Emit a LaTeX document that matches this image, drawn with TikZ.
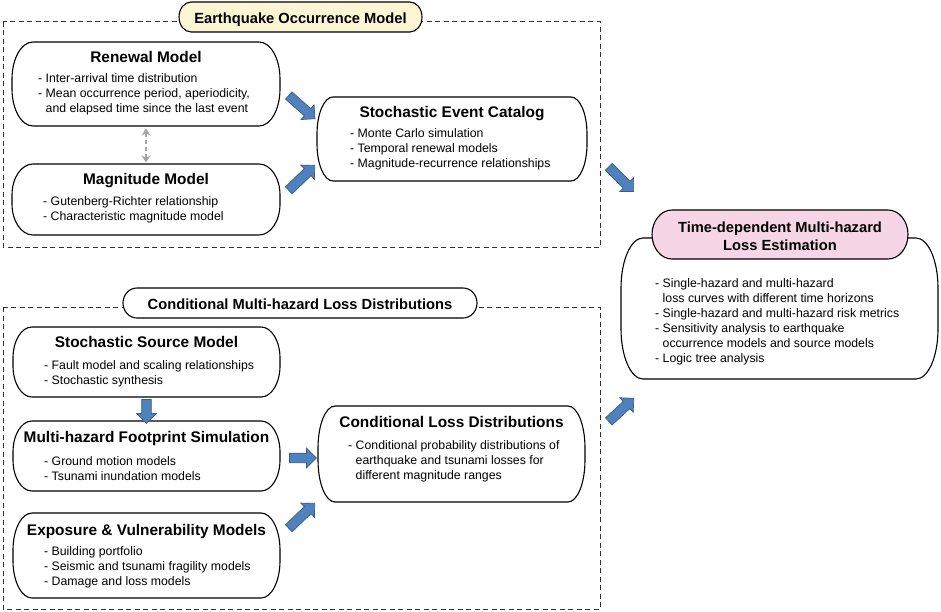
\documentclass[tikz,border=0pt]{standalone}
\usepackage{fontspec}
\setmainfont{Liberation Sans}
\usetikzlibrary{calc,arrows.meta,shapes.arrows}
\definecolor{pillyellow}{RGB}{250,246,212}
\definecolor{pillpink}{RGB}{246,214,230}
\definecolor{arrowfill}{RGB}{79,129,189}
\definecolor{arrowline}{RGB}{56,93,138}
\definecolor{dashgray}{RGB}{165,165,165}
\definecolor{framegray}{RGB}{50,50,50}
\newcommand\ebox[4][]{%
  \draw[boxline,#1] let \p1=(#2.north west), \p2=(#2.south east) in
  (\x1+#3,\y1) -- (\x2-#3,\y1)
  arc[start angle=90,end angle=0,x radius=#3,y radius=#4] -- (\x2,\y2+#4)
  arc[start angle=0,end angle=-90,x radius=#3,y radius=#4] -- (\x1+#3,\y2)
  arc[start angle=270,end angle=180,x radius=#3,y radius=#4] -- (\x1,\y1-#4)
  arc[start angle=180,end angle=90,x radius=#3,y radius=#4] -- cycle;}
\newcommand\hang{\phantom{- }}
\begin{document}
\begin{tikzpicture}[x=1pt,y=1pt,
  boxline/.style={draw=black, line width=1.1pt},
  frame/.style={draw=framegray, line width=1pt, dash pattern=on 5pt off 3.5pt},
  area/.style={rectangle, inner sep=0pt, outer sep=0pt},
  ttl/.style={font=\fontsize{15.4}{18}\selectfont\bfseries, anchor=base, inner sep=0pt},
  hdr/.style={font=\fontsize{14.7}{18.3}\selectfont\bfseries, inner sep=0pt, align=center},
  body/.style={font=\fontsize{12.3}{15}\selectfont, align=left, anchor=west, inner sep=0pt},
  barrow/.style={single arrow, fill=arrowfill, draw=arrowline, line width=0.7pt,
    inner sep=4.5pt, single arrow head extend=5pt, minimum width=0pt,
    minimum height=#1, sloped, midway},
  gdash/.style={draw=dashgray, line width=1.8pt, dash pattern=on 4pt off 3pt,
    {Stealth[length=7pt,width=9pt]}-{Stealth[length=7pt,width=9pt]}}
]
\useasboundingbox (0,0) rectangle (941,-612);

% dashed group frames
\draw[frame] (3,-22) rectangle (600,-247);
\draw[frame] (3,-307) rectangle (600,-609);

% box areas
\node[area, minimum width=243pt, minimum height=30pt] (eqhdr) at (300.5,-17) {};
\node[area, minimum width=354pt, minimum height=30pt] (cmhdr) at (300,-303) {};
\node[area, minimum width=268pt, minimum height=84pt] (renewal) at (146,-84) {};
\node[area, minimum width=268pt, minimum height=71pt] (magnitude) at (146,-199.5) {};
\node[area, minimum width=270pt, minimum height=84pt] (catalog) at (452,-139) {};
\node[area, minimum width=317pt, minimum height=141pt] (timebox) at (779.5,-308.5) {};
\node[area, minimum width=256pt, minimum height=49pt] (timehdr) at (780,-234.5) {};
\node[area, minimum width=267pt, minimum height=70pt] (source) at (146.5,-362) {};
\node[area, minimum width=267pt, minimum height=70pt] (footprint) at (146.5,-456) {};
\node[area, minimum width=267pt, minimum height=85pt] (exposure) at (146.5,-555.5) {};
\node[area, minimum width=267pt, minimum height=96pt] (condloss) at (451.5,-454) {};

% outlines
\ebox[fill=pillyellow]{eqhdr}{12pt}{15pt}
\ebox[fill=white]{cmhdr}{14pt}{15pt}
\ebox{renewal}{21pt}{37pt}
\ebox{magnitude}{21pt}{31pt}
\ebox{catalog}{16pt}{37pt}
\ebox{timebox}{22pt}{50pt}
\ebox[fill=pillpink]{timehdr}{20pt}{24.5pt}
\ebox{source}{19pt}{31pt}
\ebox{footprint}{19pt}{31pt}
\ebox{exposure}{19pt}{37pt}
\ebox{condloss}{17pt}{42pt}

% headers
\node[hdr, anchor=base] (eqhdr-t) at (300.5,-23.3) {Earthquake Occurrence Model};
\node[hdr, anchor=base] (cmhdr-t) at (300,-309.3) {Conditional Multi-hazard Loss Distributions};
\node[hdr] (timehdr-t) at (780,-236.5) {Time-dependent Multi-hazard\\Loss Estimation};

% titles
\node[ttl] (renewal-t) at (146,-62.7) {Renewal Model};
\node[ttl] (magnitude-t) at (146,-185) {Magnitude Model};
\node[ttl] (catalog-t) at (452,-117.3) {Stochastic Event Catalog};
\node[ttl] (source-t) at (146.5,-347.7) {Stochastic Source Model};
\node[ttl] (footprint-t) at (146.5,-442.7) {Multi-hazard Footprint Simulation};
\node[ttl] (exposure-t) at (146.5,-535) {Exposure \& Vulnerability Models};
\node[ttl] (condloss-t) at (451.5,-427.7) {Conditional Loss Distributions};

% bodies
\node[body] (renewal-b) at (38,-94) {- Inter-arrival time distribution\\- Mean occurrence period, aperiodicity,\\\hang and elapsed time since the last event};
\node[body] (magnitude-b) at (43,-209.5) {- Gutenberg-Richter relationship\\- Characteristic magnitude model};
\node[body] (catalog-b) at (350,-149) {- Monte Carlo simulation\\- Temporal renewal models\\- Magnitude-recurrence relationships};
\node[body] (source-b) at (44,-373.5) {- Fault model and scaling relationships\\- Stochastic synthesis};
\node[body] (footprint-b) at (44,-468.5) {- Ground motion models\\- Tsunami inundation models};
\node[body] (exposure-b) at (44,-567) {- Building portfolio\\- Seismic and tsunami fragility models\\- Damage and loss models};
\node[body] (condloss-b) at (348,-461) {- Conditional probability distributions of\\\hang earthquake and tsunami losses for\\\hang different magnitude ranges};
\node[body] (timebox-b) at (655,-322) {- Single-hazard and multi-hazard\\\hang loss curves with different time horizons\\- Single-hazard and multi-hazard risk metrics\\- Sensitivity analysis to earthquake\\\hang occurrence models and source models\\- Logic tree analysis};

% connectors
\draw[gdash] ([yshift=-2.5pt]renewal.south) -- ([yshift=1.5pt]magnitude.north);

\coordinate (a1s) at (287,-94);  \coordinate (a1e) at (313,-117);
\coordinate (a2s) at (287,-192); \coordinate (a2e) at (313,-167);
\coordinate (a3s) at (607,-165); \coordinate (a3e) at (632,-190);
\coordinate (a5s) at (287,-458); \coordinate (a5e) at (314,-458);
\coordinate (a6s) at (287,-530); \coordinate (a6e) at (313,-505);
\coordinate (a7s) at (607,-423); \coordinate (a7e) at (632,-400);
\path (a1s) -- (a1e) node[barrow=35pt] (arr1) {};
\path (a2s) -- (a2e) node[barrow=36pt] (arr2) {};
\path (a3s) -- (a3e) node[barrow=35pt] (arr3) {};
\path (source.south) -- (footprint.north) node[barrow=24pt] (arr4) {};
\path (a5s) -- (a5e) node[barrow=27pt] (arr5) {};
\path (a6s) -- (a6e) node[barrow=36pt] (arr6) {};
\path (a7s) -- (a7e) node[barrow=34pt] (arr7) {};
\end{tikzpicture}
\end{document}
